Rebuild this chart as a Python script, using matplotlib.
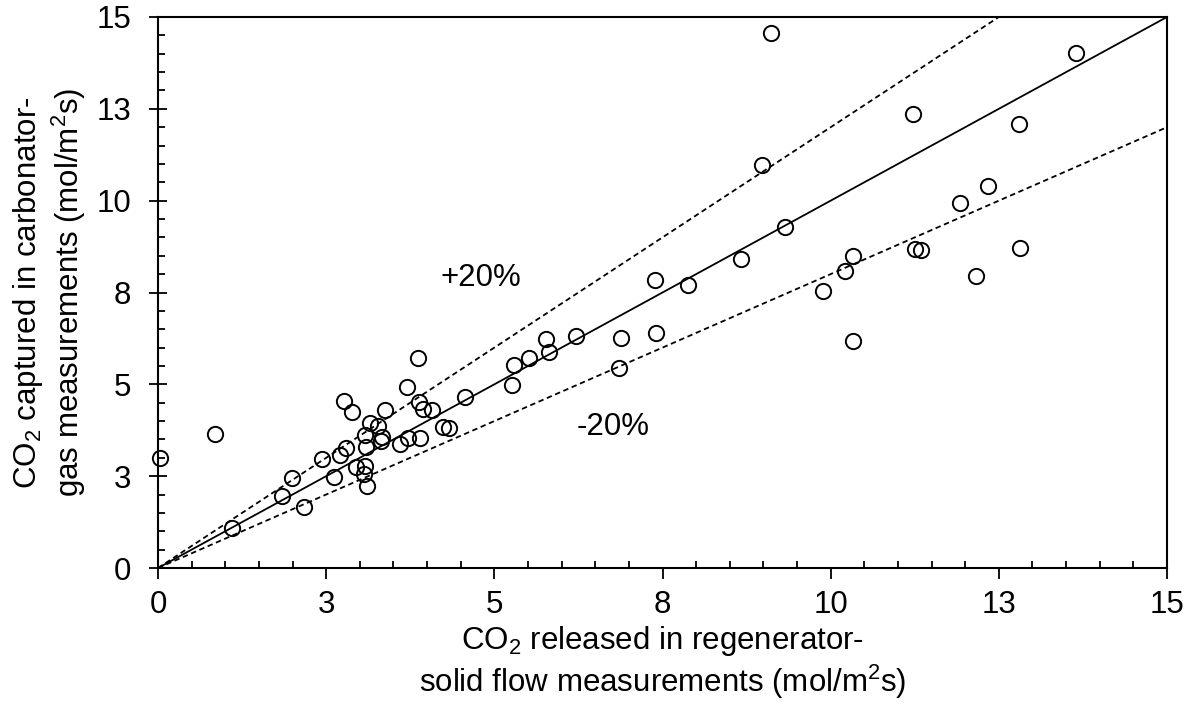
import matplotlib
matplotlib.use("Agg")
import matplotlib.pyplot as plt
import numpy as np
from matplotlib.ticker import FixedLocator, FixedFormatter, MultipleLocator

plt.rcParams['font.family'] = ['Liberation Sans', 'DejaVu Sans']
plt.rcParams['mathtext.fontset'] = 'custom'
plt.rcParams['mathtext.rm'] = 'Liberation Sans'

# Measured points (x: released in regenerator, y: captured in carbonator)
x_released = [0.03, 0.85, 1.10, 1.84, 1.99, 2.17, 2.44, 2.61, 2.71, 2.77, 2.80,
              2.89, 2.95, 3.06, 3.08, 3.08, 3.09, 3.11, 3.15, 3.27, 3.31, 3.33,
              3.37, 3.60, 3.70, 3.72, 3.86, 3.88, 3.89, 3.94, 4.07, 4.24, 4.33,
              4.57, 5.27, 5.29, 5.52, 5.77, 5.82, 6.21, 6.86, 6.88, 7.39, 7.41,
              7.88, 8.66, 8.98, 9.12, 9.32, 9.88, 10.21, 10.33, 10.33, 11.22,
              11.25, 11.34, 11.93, 12.16, 12.34, 12.80, 12.81, 13.64]
y_captured = [3.00, 3.66, 1.10, 1.96, 2.44, 1.67, 2.98, 2.49, 3.08, 4.55, 3.26,
              4.26, 2.76, 2.55, 3.62, 2.78, 3.30, 2.24, 3.94, 3.87, 3.46, 3.57,
              4.30, 3.37, 4.94, 3.55, 5.71, 4.51, 3.55, 4.32, 4.30, 3.83, 3.82,
              4.66, 4.98, 5.53, 5.71, 6.23, 5.89, 6.32, 5.44, 6.25, 7.84, 6.39,
              7.70, 8.40, 10.97, 14.56, 9.28, 7.55, 8.09, 8.49, 6.19, 12.35,
              8.68, 8.67, 9.95, 7.95, 10.40, 12.09, 8.72, 14.01]

tick_values = [0, 2.5, 5, 7.5, 10, 12.5, 15]
tick_labels = ["0", "3", "5", "8", "10", "13", "15"]
ref_x = [0, 15]

fig = plt.figure(figsize=(11.99, 7.06), dpi=100)
ax = fig.add_axes([158/1199, 1 - 568/706, (1167-158)/1199, (568-17)/706])

xs = np.array(ref_x, dtype=float)
ax.plot(xs, xs, color='black', lw=1.3, zorder=2)
ax.plot(xs, 1.2 * xs, color='black', lw=1.3, ls=(0, (3, 2)), zorder=2)
ax.plot(xs, 0.8 * xs, color='black', lw=1.3, ls=(0, (3, 2)), zorder=2)

ax.plot(x_released, y_captured, 'o', ms=11, mfc='none', mec='black', mew=1.4,
        zorder=3, clip_on=False)

ax.text(4.8, 7.9, "+20%", fontsize=22.5, ha='center', va='center')
ax.text(6.76, 3.84, "-20%", fontsize=22.5, ha='center', va='center')

ax.set_xlim(0, 15)
ax.set_ylim(0, 15)
for a in (ax.xaxis, ax.yaxis):
    a.set_major_locator(FixedLocator(tick_values))
    a.set_major_formatter(FixedFormatter(tick_labels))
    a.set_minor_locator(MultipleLocator(0.5))

ax.tick_params(axis='x', which='major', direction='out', length=8, width=1.3,
               labelsize=22.5, pad=8)
ax.tick_params(axis='x', which='minor', direction='in', length=5, width=1.3)
ax.tick_params(axis='y', which='major', direction='inout', length=13, width=1.3,
               labelsize=22.5, pad=13)
ax.tick_params(axis='y', which='minor', direction='in', length=5, width=1.3)

for s in ax.spines.values():
    s.set_linewidth(1.5)

ax.set_xlabel("CO$_2$ released in regenerator-\nsolid flow measurements (mol/m$^2$s)",
              fontsize=22.5, labelpad=3, linespacing=1.15)
ax.set_ylabel("CO$_2$ captured in carbonator-\ngas measurements (mol/m$^2$s)",
              fontsize=22.5, labelpad=6, linespacing=1.15)

fig.savefig("out.png", dpi=100)
